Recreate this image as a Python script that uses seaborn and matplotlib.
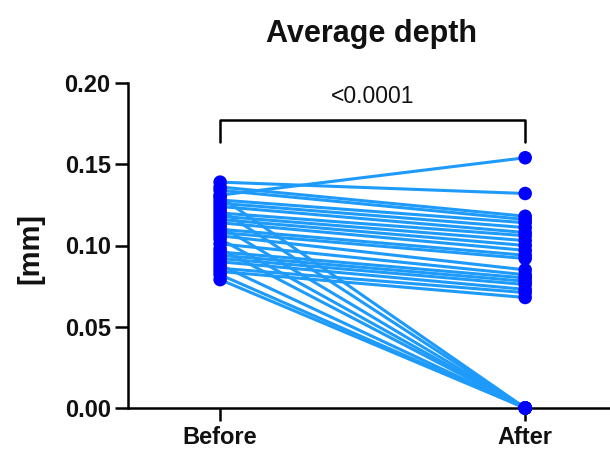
import numpy as np
import pandas as pd
import matplotlib
matplotlib.use("Agg")
import matplotlib.pyplot as plt
import seaborn as sns

sns.set_style("ticks")
plt.rcParams['font.family'] = ['Liberation Sans', 'DejaVu Sans']

conditions = ["Before", "After"]
before = [0.139, 0.136, 0.134, 0.131, 0.130, 0.128, 0.126, 0.124, 0.122, 0.120,
          0.118, 0.116, 0.114, 0.112, 0.110, 0.108, 0.106, 0.104, 0.101, 0.098,
          0.096, 0.094, 0.092, 0.090, 0.088, 0.086, 0.084, 0.082, 0.079]
after = [0.132, 0.118, 0.116, 0.154, 0.000, 0.114, 0.111, 0.108, 0.000, 0.106,
         0.103, 0.100, 0.097, 0.000, 0.094, 0.092, 0.085, 0.000, 0.082, 0.000,
         0.080, 0.078, 0.076, 0.073, 0.000, 0.071, 0.068, 0.000, 0.000]
p_label = "<0.0001"

n = len(before)
df = pd.DataFrame({
    "id": list(range(n)) * 2,
    "pos": [0] * n + [1] * n,
    "value": before + after,
})

fig = plt.figure(figsize=(6.1, 4.5), dpi=100)
ax = fig.add_axes([128 / 610, 1 - 408 / 450, (610 - 128) / 610, (408 - 83) / 450])

sns.lineplot(data=df, x="pos", y="value", units="id", estimator=None,
             color="#1E9BFA", linewidth=2.2, ax=ax, legend=False, zorder=2)
sns.scatterplot(data=df, x="pos", y="value", color="#0000FF", s=95,
                edgecolor="none", ax=ax, legend=False, zorder=3, clip_on=False)

ax.set_xlim(-0.302, 1.278)
ax.set_ylim(0, 0.20)
ax.set_xticks([0, 1])
ax.set_xticklabels(conditions, fontweight="bold", fontsize=17)
yt = [0, 0.05, 0.10, 0.15, 0.20]
ax.set_yticks(yt)
ax.set_yticklabels([f"{v:.2f}" for v in yt], fontweight="bold", fontsize=17)
ax.tick_params(axis="both", width=1.8, length=9.5, color="black", labelcolor="#111111")
ax.tick_params(axis="y", pad=3)
ax.tick_params(axis="x", pad=3.5)
for side in ["top", "right"]:
    ax.spines[side].set_visible(False)
for side in ["left", "bottom"]:
    ax.spines[side].set_linewidth(1.8)
    ax.spines[side].set_color("black")
ax.set_xlabel("")
ax.set_ylabel("[mm]", fontweight="bold", fontsize=21, color="#111111", va="center")
ax.yaxis.set_label_coords((30 - 128) / 482, 0.49)

# significance bracket
yb, ytop = 0.164, 0.177
ax.plot([0, 0, 1, 1], [yb, ytop, ytop, yb], color="black", lw=1.8, zorder=4, clip_on=False)
ax.text(0.5, 0.1877, p_label, ha="center", va="baseline", fontsize=16.5, color="#111111")

fig.text(372 / 610, 1 - 42 / 450, "Average depth", ha="center", va="baseline",
         fontweight="bold", fontsize=22, color="#111111")

fig.savefig("out.png", dpi=100)
